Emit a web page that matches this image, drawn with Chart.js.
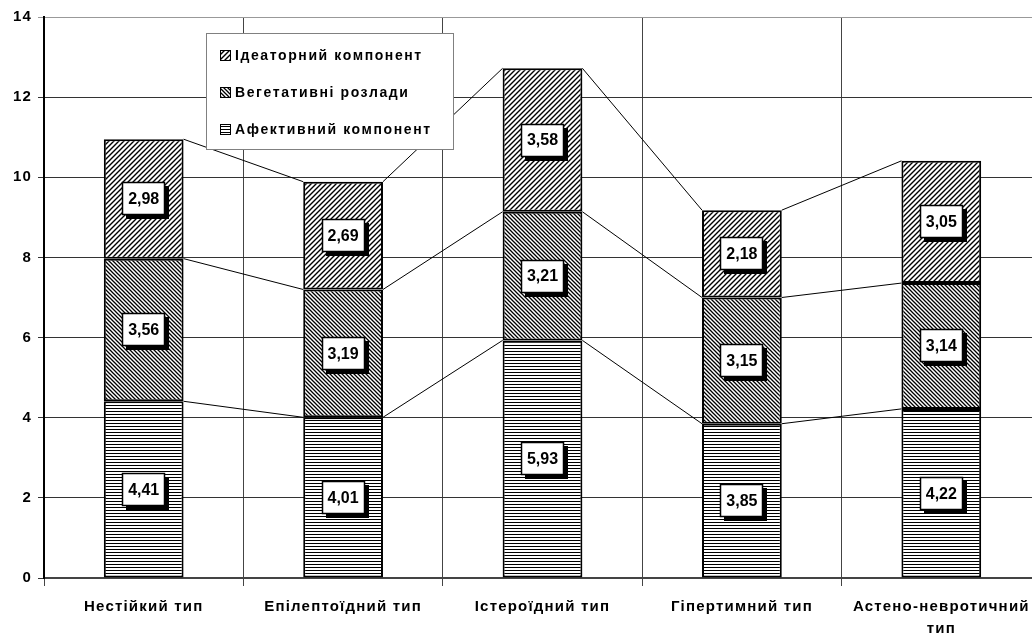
<!DOCTYPE html>
<html>
<head>
<meta charset="utf-8">
<script src="https://cdn.jsdelivr.net/npm/chart.js@4"></script>
<style>
  html, body { margin: 0; padding: 0; overflow: hidden; background: #fff; }
  #wrap { width: 1045px; height: 633px; }
</style>
</head>
<body>
<div id="wrap"><canvas id="chart" width="1045" height="633"></canvas></div>
<script>
const categories = ["Нестійкий тип", "Епілептоїдний тип", "Істероїдний тип", "Гіпертимний тип", ["Астено-невротичний", "тип"]];
const affective = [4.41, 4.01, 5.93, 3.85, 4.22];
const vegetative = [3.56, 3.19, 3.21, 3.15, 3.14];
const ideator = [2.98, 2.69, 3.58, 2.18, 3.05];
const seriesNames = ["Афективний компонент", "Вегетативні розлади", "Ідеаторний компонент"];
const yTicks = [0, 2, 4, 6, 8, 10, 12, 14];

const FONT = "'Liberation Sans', Arial, sans-serif";

function hatch(kind) {
  const c = document.createElement("canvas");
  const ctx = c.getContext("2d");
  if (kind === "h") {
    c.width = 4; c.height = 3;
    ctx.fillStyle = "#fff"; ctx.fillRect(0, 0, 4, 3);
    ctx.fillStyle = "#000"; ctx.fillRect(0, 0, 4, 1);
  } else {
    const p = kind === "/" ? 5 : 4;
    c.width = p; c.height = p;
    ctx.fillStyle = "#fff"; ctx.fillRect(0, 0, p, p);
    ctx.strokeStyle = "#000"; ctx.lineWidth = kind === "/" ? 1.4 : 1.3;
    ctx.beginPath();
    if (kind === "/") {
      ctx.moveTo(-1, p + 1); ctx.lineTo(p + 1, -1);
      ctx.moveTo(-1, 1); ctx.lineTo(1, -1);
      ctx.moveTo(p - 1, p + 1); ctx.lineTo(p + 1, p - 1);
    } else {
      ctx.moveTo(-1, -1); ctx.lineTo(p + 1, p + 1);
      ctx.moveTo(p - 1, -1); ctx.lineTo(p + 1, 1);
      ctx.moveTo(-1, p - 1); ctx.lineTo(1, p + 1);
    }
    ctx.stroke();
  }
  return c.getContext("2d").createPattern(c, "repeat");
}

const patterns = [hatch("h"), hatch("\\"), hatch("/")];

// the old Excel text is set rather loose
const spacing = {
  id: "spacing",
  beforeDraw(chart) { chart.ctx.letterSpacing = "1.2px"; }
};

// Excel-style series lines between neighbouring bars
const seriesLines = {
  id: "seriesLines",
  afterDatasetsDraw(chart) {
    const ctx = chart.ctx;
    ctx.save();
    ctx.strokeStyle = "#000";
    ctx.lineWidth = 1;
    chart.data.datasets.forEach((ds, d) => {
      const bars = chart.getDatasetMeta(d).data;
      for (let i = 0; i < bars.length - 1; i++) {
        const a = bars[i], b = bars[i + 1];
        ctx.beginPath();
        ctx.moveTo(a.x + a.width / 2, a.y);
        ctx.lineTo(b.x - b.width / 2, b.y);
        ctx.stroke();
      }
    });
    ctx.restore();
  }
};

// boxed value labels with shadow
const boxLabels = {
  id: "boxLabels",
  afterDatasetsDraw(chart) {
    const ctx = chart.ctx;
    ctx.save();
    ctx.letterSpacing = "0px";
    ctx.font = "bold 16px " + FONT;
    ctx.textAlign = "center";
    ctx.textBaseline = "middle";
    chart.data.datasets.forEach((ds, d) => {
      chart.getDatasetMeta(d).data.forEach((bar, i) => {
        const txt = ds.data[i].toFixed(2).replace(".", ",");
        const cx = bar.x, cy = (bar.y + bar.base) / 2;
        const w = 43, h = 33;
        const x = Math.round(cx - w / 2), y = Math.round(cy - h / 2);
        ctx.fillStyle = "#000";
        ctx.fillRect(x + 4, y + 4, w, h);
        ctx.fillStyle = "#fff";
        ctx.fillRect(x, y, w, h);
        ctx.strokeStyle = "#000";
        ctx.lineWidth = 1.5;
        ctx.strokeRect(x + 0.5, y + 0.5, w - 1, h - 1);
        ctx.fillStyle = "#000";
        ctx.fillText(txt, cx, cy + 1);
      });
    });
    ctx.restore();
  }
};

// legend box drawn inside the plot area
const boxLegend = {
  id: "boxLegend",
  afterDraw(chart) {
    const ctx = chart.ctx;
    ctx.save();
    const x = 206, y = 33, w = 247, h = 116;
    ctx.fillStyle = "#fff";
    ctx.fillRect(x, y, w, h);
    ctx.strokeStyle = "#808080";
    ctx.lineWidth = 1;
    ctx.strokeRect(x + 0.5, y + 0.5, w, h);
    ctx.letterSpacing = "1.6px";
    ctx.font = "bold 14px " + FONT;
    ctx.textBaseline = "middle";
    [2, 1, 0].forEach((s, r) => {
      const ry = 55 + r * 37;
      ctx.fillStyle = patterns[s];
      ctx.fillRect(220, ry - 5, 11, 11);
      ctx.strokeStyle = "#000";
      ctx.lineWidth = 1;
      ctx.strokeRect(220.5, ry - 4.5, 10, 10);
      ctx.fillStyle = "#000";
      ctx.fillText(seriesNames[s], 235, ry + 1);
    });
    ctx.restore();
  }
};

const makeSet = (label, data, i) => ({
  label, data,
  backgroundColor: patterns[i],
  borderColor: "#000",
  borderWidth: 2,
  borderSkipped: false,
  barPercentage: 0.4,
  categoryPercentage: 1
});

new Chart(document.getElementById("chart"), {
  type: "bar",
  data: {
    labels: categories,
    datasets: [
      makeSet(seriesNames[0], affective, 0),
      makeSet(seriesNames[1], vegetative, 1),
      makeSet(seriesNames[2], ideator, 2)
    ]
  },
  options: {
    responsive: false,
    animation: false,
    layout: { padding: { top: 17, right: 4, left: 0, bottom: 0 } },
    plugins: { legend: { display: false }, tooltip: { enabled: false } },
    scales: {
      x: {
        stacked: true,
        afterFit: s => { s.height = 55; },
        grid: { color: "#444", lineWidth: 1, offset: true, tickLength: 8 },
        border: { color: "#444", width: 2 },
        ticks: {
          color: "#000",
          padding: 10,
          maxRotation: 0,
          font: { family: FONT, size: 15, weight: "bold", lineHeight: 1.45 }
        }
      },
      y: {
        stacked: true,
        min: 0, max: 14,
        afterFit: s => { s.width = 44; },
        afterBuildTicks: s => { s.ticks = yTicks.map(v => ({ value: v })); },
        grid: {
          color: c => (c.tick && c.tick.value === 14 ? "#999" : "#333"),
          lineWidth: 1,
          tickLength: 6
        },
        border: { color: "#000", width: 2 },
        ticks: {
          color: "#000",
          padding: 6,
          font: { family: FONT, size: 15, weight: "bold" }
        }
      }
    }
  },
  plugins: [spacing, seriesLines, boxLabels, boxLegend]
});
</script>
</body>
</html>
